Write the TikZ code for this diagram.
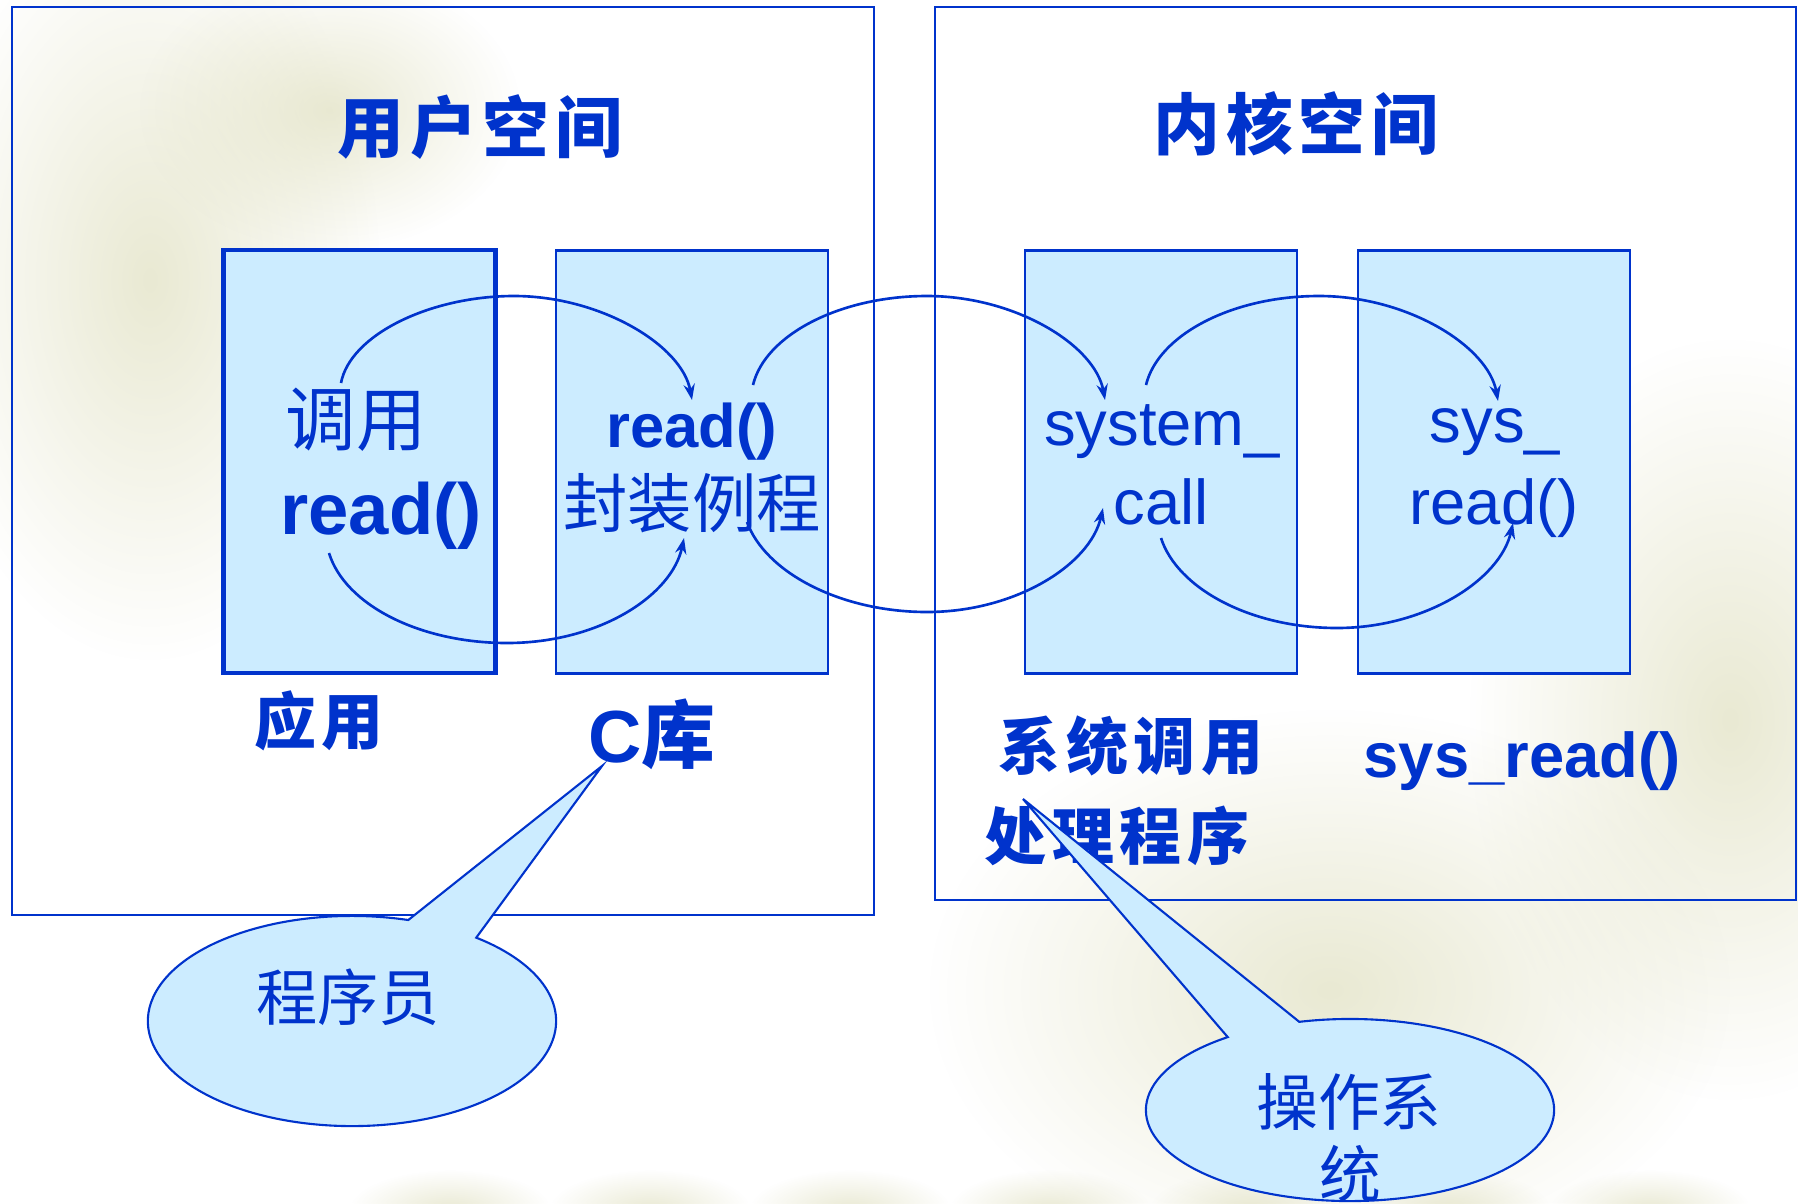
\documentclass[tikz,border=0pt]{standalone}
\usepackage{fontspec}
\setmainfont{Liberation Sans}
\newfontfamily\cjk{Noto Sans CJK SC}
\usetikzlibrary{arrows.meta,calc,fadings}
\definecolor{tblue}{RGB}{0,51,204}
\definecolor{lblue}{RGB}{204,236,255}
\definecolor{bgc}{RGB}{226,226,196}
\tikzfading[name=softblob,inner color=transparent!0,outer color=transparent!100]
\newcommand{\gapc}{\hspace{1.7pt}}
\begin{document}
\begin{tikzpicture}[x=0.01cm,y=-0.01cm,
  every node/.style={inner sep=0pt,text=tblue},
  kai/.style={font=\cjk\bfseries\fontsize{#1}{#1}\selectfont},
  song/.style={font=\cjk\fontsize{#1}{#1}\selectfont},
  lat/.style={font=\fontsize{#1}{#1}\selectfont},
  latb/.style={font=\bfseries\fontsize{#1}{#1}\selectfont},
  outerbox/.style={draw=tblue,line width=0.6pt},
  ibox/.style={draw=tblue,fill=lblue,line width=0.7pt,minimum width=2.72cm,minimum height=4.23cm},
  flow/.style={draw=tblue,line width=0.75pt,-{Stealth[length=4.5pt,width=3.2pt]}},
  callout/.style={draw=tblue,fill=lblue,line width=0.6pt},
  blob/.style={fill=bgc,fill opacity=0.75,path fading=softblob}]
\useasboundingbox (0,0) rectangle (1798,1203);
\fill[white] (0,0) rectangle (1798,1203);
% faint background blobs
\fill[blob] (150,280) ellipse (230 and 380);
\fill[blob] (330,110) ellipse (190 and 140);
\fill[blob] (1730,720) ellipse (260 and 380);
\fill[blob] (1330,990) ellipse (400 and 280);
\foreach \bx in {450,650,850,1050,1250,1450,1650}
  \fill[blob] (\bx,1210) ellipse (100 and 40);
% outer regions
\draw[outerbox] (12,7) rectangle (874,915);
\draw[outerbox] (935,7) rectangle (1796,900);
% inner boxes
\node[ibox,line width=1.3pt] (b1) at (359.5,461.5) {};
\node[ibox] (b2) at (692,462) {};
\node[ibox] (b3) at (1161,462) {};
\node[ibox] (b4) at (1494,462) {};
% titles
\node[kai=19] (us) at (480,127) {用\gapc 户\gapc 空\gapc 间};
\node[kai=19] (ks) at (1296,124) {内\gapc 核\gapc 空\gapc 间};
% box texts
\node[song=20] (l1a) at (356,420) {调用};
\node[latb=20.6] (l1b) at (381,516) {read()};
\node[latb=17.5] (l2a) at (692,432) {read()};
\node[song=18.3] (l2b) at (692,503) {封装例程};
\node[lat=18] (l3a) at (1162,432) {system\_};
\node[lat=18] (l3b) at (1161,502) {call};
\node[lat=18] (l4a) at (1495,432) {sys\_};
\node[lat=18] (l4b) at (1494,508) {read()};
% captions
\node[kai=17.6] (app) at (319,721) {应\gapc 用};
\node[font=\bfseries\fontsize{21}{21}\selectfont] (clib) at (652,734) {C{\cjk\bfseries 库}};
\node[kai=17.6] (sch1) at (1131,746) {系\gapc 统\gapc 调\gapc 用};
\node[kai=17.6] (sch2) at (1117,836) {处\gapc 理\gapc 程\gapc 序};
\node[latb=18] (sysr) at (1522,761) {sys\_read()};
% flow arcs
\coordinate (a1s) at (341,383); \coordinate (a1m) at (514,296); \coordinate (a1e) at (692,400);
\draw[flow] (a1s) .. controls +(9,-48) and +(-84,0) .. (a1m) .. controls +(86,0) and +(-10,-55) .. (a1e);
\coordinate (a1bs) at (329,553); \coordinate (a1bm) at (507,643); \coordinate (a1be) at (684,538);
\draw[flow] (a1bs) .. controls +(16,52) and +(-87,0) .. (a1bm) .. controls +(93,0) and +(-12,57) .. (a1be);
\coordinate (a2s) at (753,385); \coordinate (a2m) at (927,296); \coordinate (a2e) at (1105,400);
\draw[flow] (a2s) .. controls +(12,-50) and +(-87,0) .. (a2m) .. controls +(88,0) and +(-10,-55) .. (a2e);
\coordinate (a2bs) at (747,522); \coordinate (a2bm) at (927,612); \coordinate (a2be) at (1103,508);
\draw[flow] (a2bs) .. controls +(18,50) and +(-87,0) .. (a2bm) .. controls +(88,0) and +(-13,57) .. (a2be);
\coordinate (a3s) at (1146,385); \coordinate (a3m) at (1319,296); \coordinate (a3e) at (1498,401);
\draw[flow] (a3s) .. controls +(12,-50) and +(-87,0) .. (a3m) .. controls +(88,0) and +(-10,-55) .. (a3e);
\coordinate (a3bs) at (1161,538); \coordinate (a3bm) at (1337,628); \coordinate (a3be) at (1513,523);
\draw[flow] (a3bs) .. controls +(16,50) and +(-87,0) .. (a3bm) .. controls +(88,0) and +(-13,57) .. (a3be);
% callouts
\coordinate (c1) at (352,1021);
\coordinate (t1) at (602,766);
\path[callout] ($(c1)+(74:2.04cm and 1.05cm)$) arc[start angle=74,end angle=412.5,x radius=2.04cm,y radius=1.05cm] -- (t1) -- cycle;
\node[song=17.4] (prog) at (348,997) {程序员};
\coordinate (c2) at (1350,1110);
\coordinate (t2) at (1023,799);
\path[callout] ($(c2)+(126.8:2.04cm and 0.91cm)$) arc[start angle=126.8,end angle=464.4,x radius=2.04cm,y radius=0.91cm] -- (t2) -- cycle;
\node[song=17.6] (os1) at (1349,1102) {操作系};
\node[song=17.6] (os2) at (1350,1174) {统};
\end{tikzpicture}
\end{document}
